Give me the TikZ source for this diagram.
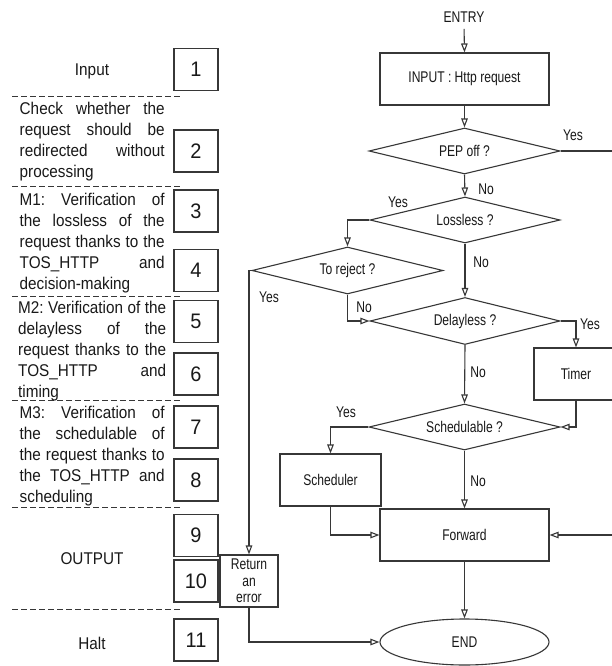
\documentclass[tikz,border=0pt]{standalone}
\usepackage{fontspec}
\setmainfont{Liberation Sans}
\newfontfamily\flowfont[FakeStretch=0.78]{Liberation Sans}
\newfontfamily\sidefont[FakeStretch=0.9]{Liberation Sans}
\newfontfamily\numfont[FakeStretch=0.95]{Liberation Sans}
\usetikzlibrary{shapes.geometric,arrows.meta}
\definecolor{ln}{RGB}{55,55,55}
\definecolor{tx}{RGB}{25,25,25}
\newcommand\jline[1]{\leavevmode\hbox to 145pt{#1}}
\newcommand\jlinew[1]{\leavevmode\hbox to 148pt{#1}}
\begin{document}
\begin{tikzpicture}[x=1pt,y=-1pt,
  flow/.style={font=\flowfont\fontsize{15.5}{17}\selectfont, text=tx},
  fbox/.style={flow, draw=ln, line width=1.1pt, rectangle, inner sep=0pt},
  dia/.style={flow, draw=ln, line width=1.1pt, diamond, shape aspect=4, inner sep=0pt, minimum width=191pt, minimum height=46pt},
  arr/.style={draw=ln, line width=1.1pt, -{Triangle[open,length=9pt,width=6.5pt]}},
  numbox/.style={draw=ln, line width=1.1pt, minimum width=44pt, minimum height=42pt, inner sep=0pt, text=tx, font=\numfont\fontsize{21}{24}\selectfont},
  sidetext/.style={font=\sidefont\fontsize{17}{21.2}\selectfont, text=tx, text width=150pt, align=left, inner sep=0pt, anchor=base west},
  sidelabel/.style={font=\sidefont\fontsize{17}{21.2}\selectfont, text=tx},
  sep/.style={draw=ln, line width=1pt, dash pattern=on 6pt off 3pt}]
\clip (0,0) rectangle (612,666);
\fill[white] (0,0) rectangle (612,666);

% ---------- flowchart ----------
\node[flow] (entry) at (464,17) {ENTRY};
\node[fbox, minimum width=169pt, minimum height=52pt] (input) at (464.5,79) {INPUT : Http request};
\node[dia] (pep) at (464.5,151) {PEP off ?};
\node[dia, minimum width=190pt] (loss) at (465,220) {Lossless ?};
\node[dia, minimum height=47pt] (reject) at (347.5,270.5) {To reject ?};
\node[dia, minimum width=190pt, minimum height=47pt] (delay) at (465,321) {Delayless ?};
\node[fbox, minimum width=84pt, minimum height=52pt] (timer) at (576,374) {Timer};
\node[dia] (sched) at (464.5,427) {Schedulable ?};
\node[fbox, minimum width=101pt, minimum height=52pt] (scheduler) at (330.5,480) {Scheduler};
\node[fbox, minimum width=169pt, minimum height=52pt] (forward) at (464.5,535) {Forward};
\node[flow, draw=ln, line width=1.1pt, ellipse, inner sep=0pt, minimum width=169pt, minimum height=46pt] (end) at (464.5,642) {END};
\node[fbox, minimum width=58pt, minimum height=52pt, align=center, font=\flowfont\fontsize{15.5}{16.7}\selectfont] (ret) at (249,581) {Return\\an\\error};

% labels
\node[flow] (y1) at (573,135) {Yes};
\node[flow] (n1) at (486,189) {No};
\node[flow] (y2) at (398,202) {Yes};
\node[flow] (n2) at (481,262) {No};
\node[flow] (y3) at (269,297) {Yes};
\node[flow] (n3) at (364,307) {No};
\node[flow] (y4) at (590,324) {Yes};
\node[flow] (n4) at (478,372) {No};
\node[flow] (y5) at (346,412) {Yes};
\node[flow] (n5) at (478,481) {No};

% connectors
\draw[arr, shorten <=3pt] (entry.south) -- (input.north);
\draw[arr] (input.south) -- (pep.north);
\draw[arr] (pep.east) -- ++(70,0) |- (forward.east);
\draw[arr] (pep.south) -- (loss.north);
\draw[arr] (loss.west) -| (reject.north);
\draw[arr] (loss.south) -- (delay.north);
\draw[arr] (reject.west) -| (ret.north);
\draw[arr] (reject.south) |- (delay.west);
\draw[arr] (delay.east) -| (timer.north);
\draw[arr] (delay.south) -- (sched.north);
\draw[arr] (timer.south) |- (sched.east);
\draw[arr] (sched.west) -| (scheduler.north);
\draw[arr] (sched.south) -- (forward.north);
\draw[arr] (scheduler.south) |- (forward.west);
\draw[arr] (forward.south) -- (end.north);
\draw[arr] (ret.south) |- (end.west);

% ---------- left column ----------
\foreach \n/\yy in {1/69.5,2/151,3/211,4/270.5,5/321.5,6/374,7/427,8/480,9/535.5,10/581,11/640}
  \node[numbox] (b\n) at (196,\yy) {\n};

\foreach \yy in {97,186,296,400,507,609}
  \draw[sep] (12,\yy) -- (180,\yy);

\node[sidelabel] (tin) at (92,71) {Input};
\node[sidetext] (t2) at (19.5,114) {\jline{Check\hfill whether\hfill the}\\\jline{request\hfill should\hfill be}\\\jline{redirected\hfill without}\\processing};
\node[sidetext] (t3) at (19.5,205) {\jline{M1:\hfill Verification\hfill of}\\\jline{the\hfill lossless\hfill of\hfill the}\\\jline{request\hfill thanks\hfill to\hfill the}\\\jline{TOS\_HTTP\hfill and}\\decision-making};
\node[sidetext] (t5) at (18,313) {\jlinew{M2:\hfill Verification\hfill of\hfill the}\\\jlinew{delayless\hfill of\hfill the}\\\jlinew{request\hfill thanks\hfill to\hfill the}\\\jlinew{TOS\_HTTP\hfill and}\\timing};
\node[sidetext] (t7) at (19.5,418) {\jline{M3:\hfill Verification\hfill of}\\\jline{the\hfill schedulable\hfill of}\\\jline{the\hfill request\hfill thanks\hfill to}\\\jline{the\hfill TOS\_HTTP\hfill and}\\scheduling};
\node[sidelabel] (tout) at (92,559) {OUTPUT};
\node[sidelabel] (thalt) at (92,643) {Halt};
\end{tikzpicture}
\end{document}
